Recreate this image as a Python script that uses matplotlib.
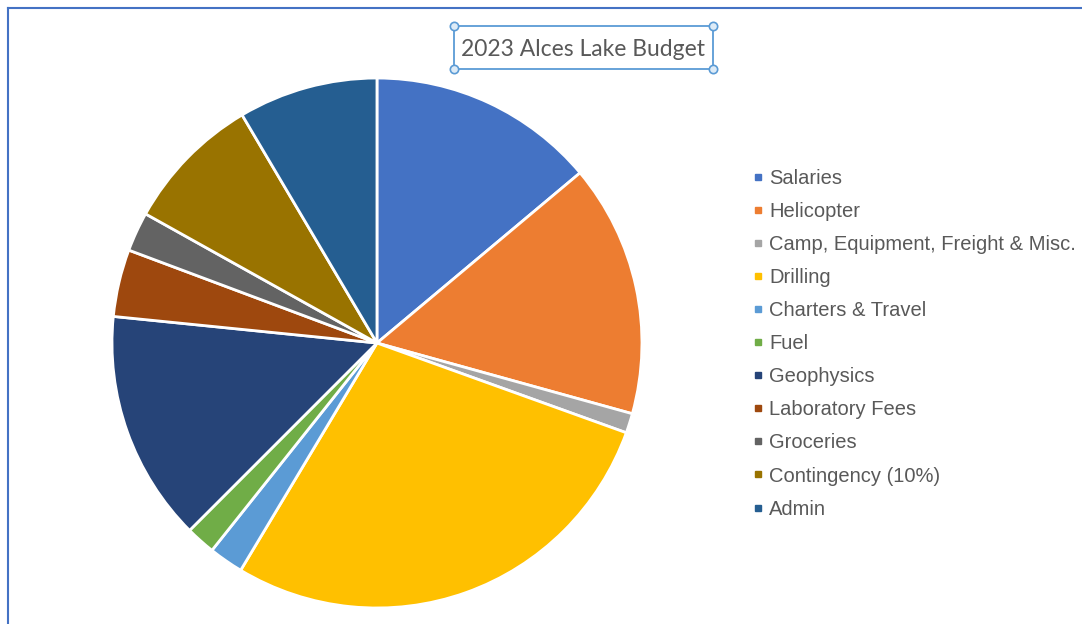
import matplotlib.pyplot as plt
from matplotlib.lines import Line2D
from matplotlib.patches import Rectangle

# budget breakdown, share of total (%)
categories = ["Salaries", "Helicopter", "Camp, Equipment, Freight & Misc.", "Drilling",
              "Charters & Travel", "Fuel", "Geophysics", "Laboratory Fees", "Groceries",
              "Contingency (10%)", "Admin"]
shares = [13.9, 15.4, 1.2, 28.1, 2.1, 1.8, 14.1, 4.1, 2.4, 8.4, 8.5]
colors = ["#4472C4", "#ED7D31", "#A5A5A5", "#FFC000", "#5B9BD5", "#70AD47",
          "#264478", "#9E480E", "#636363", "#997300", "#255E91"]

fig = plt.figure(figsize=(10.82, 6.24), dpi=100)
ax = fig.add_axes([0.1035, 0.0256, 0.4898, 0.8494])

ax.pie(shares, colors=colors, startangle=90, counterclock=False,
       wedgeprops=dict(edgecolor="white", linewidth=2))
ax.set_xlim(-1.0, 1.0)
ax.set_ylim(-1.0, 1.0)
ax.set_aspect("equal")

# legend
handles = [Line2D([], [], marker="s", linestyle="", markersize=5, color=c) for c in colors]
fig.legend(handles, categories, loc="upper left", bbox_to_anchor=(0.6955, 0.7297),
           frameon=False, prop={"family": "Liberation Sans", "size": 14.5},
           labelcolor="#595959", handlelength=0.5, handletextpad=0.32,
           labelspacing=0.7, borderpad=0, borderaxespad=0)

# title with its selection box
fig.text(0.539, 0.921, "2023 Alces Lake Budget", ha="center", va="center",
         fontsize=16.5, color="#595959", family="Lato")
sel = "#5B9BD5"
x0, x1 = 454 / 1082, 713 / 1082
y0, y1 = 1 - 69 / 624, 1 - 26 / 624
fig.add_artist(Rectangle((x0, y0), x1 - x0, y1 - y0, transform=fig.transFigure,
                         fill=False, edgecolor=sel, linewidth=1.3))
for hx in (x0, x1):
    for hy in (y0, y1):
        fig.add_artist(Line2D([hx], [hy], marker="o", markersize=6,
                              markerfacecolor="#DDEBF7", markeredgecolor=sel,
                              markeredgewidth=1.2, transform=fig.transFigure))

# chart area border (top and left edges)
fig.add_artist(Line2D([8 / 1082, 1], [1 - 8 / 624, 1 - 8 / 624], color="#4472C4",
                      linewidth=1.5, transform=fig.transFigure))
fig.add_artist(Line2D([8 / 1082, 8 / 1082], [0, 1 - 8 / 624], color="#4472C4",
                      linewidth=1.5, transform=fig.transFigure))

fig.savefig("out.png", dpi=100)
